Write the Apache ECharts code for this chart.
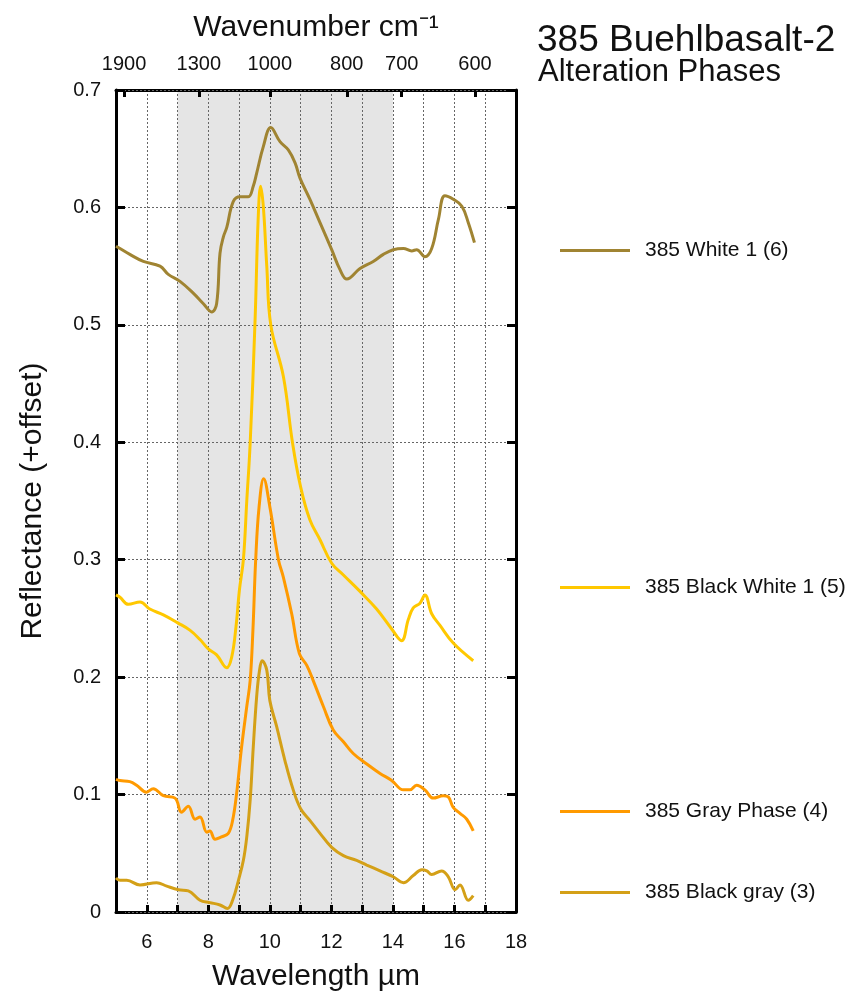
<!DOCTYPE html>
<html>
<head>
<meta charset="utf-8">
<script src="https://cdn.jsdelivr.net/npm/echarts@6/dist/echarts.min.js"></script>
<style>
  html, body { margin: 0; padding: 0; background: #fff; }
  #chart { width: 860px; height: 995px; }
</style>
</head>
<body>
<div id="chart"></div>
<script>
  'use strict'

  /*----- data -----*/
  var seriesNames = ['385 White 1 (6)', '385 Black White 1 (5)', '385 Gray Phase (4)', '385 Black gray (3)'];
  var seriesColors = ['#a08432', '#ffc800', '#ff9a00', '#d4a017'];

  var white1X = [5.0, 5.13, 5.45, 5.89, 6.43, 6.70, 7.08, 7.51, 7.84, 8.11, 8.27, 8.38, 8.49, 8.60, 8.81, 9.03, 9.30, 9.46, 9.57, 9.79, 10.03, 10.33, 10.60, 10.82, 10.98, 11.30, 11.63, 12.01, 12.28, 12.50, 12.93, 13.36, 13.69, 14.01, 14.34, 14.61, 14.77, 15.04, 15.26, 15.48, 15.69, 15.96, 16.24, 16.45, 16.65];
  var white1Y = [0.567, 0.565, 0.560, 0.554, 0.550, 0.543, 0.537, 0.527, 0.518, 0.511, 0.518, 0.561, 0.575, 0.583, 0.605, 0.609, 0.609, 0.618, 0.629, 0.652, 0.668, 0.656, 0.649, 0.638, 0.625, 0.607, 0.587, 0.564, 0.547, 0.539, 0.548, 0.554, 0.560, 0.564, 0.565, 0.563, 0.564, 0.558, 0.565, 0.590, 0.610, 0.607, 0.601, 0.587, 0.570];

  var blackWhiteX = [5.0, 5.13, 5.40, 5.78, 6.10, 6.54, 7.02, 7.40, 7.73, 8.0, 8.27, 8.60, 8.76, 8.90, 9.01, 9.14, 9.25, 9.36, 9.52, 9.62, 9.70, 9.79, 9.90, 10.03, 10.44, 10.74, 11.0, 11.30, 11.63, 12.01, 12.39, 12.93, 13.47, 13.96, 14.28, 14.50, 14.66, 14.88, 15.04, 15.26, 15.53, 15.96, 16.61];
  var blackWhiteY = [0.270, 0.268, 0.262, 0.264, 0.258, 0.253, 0.246, 0.240, 0.232, 0.224, 0.219, 0.208, 0.217, 0.243, 0.274, 0.300, 0.350, 0.399, 0.504, 0.590, 0.618, 0.600, 0.550, 0.500, 0.456, 0.399, 0.362, 0.334, 0.317, 0.297, 0.287, 0.273, 0.258, 0.241, 0.231, 0.249, 0.259, 0.263, 0.270, 0.254, 0.244, 0.229, 0.214];

  var grayX = [5.0, 5.13, 5.45, 5.67, 5.99, 6.21, 6.54, 6.92, 7.13, 7.35, 7.57, 7.73, 7.95, 8.05, 8.22, 8.43, 8.65, 8.79, 8.92, 9.08, 9.25, 9.36, 9.45, 9.54, 9.65, 9.80, 10.0, 10.28, 10.44, 10.71, 10.96, 11.20, 11.41, 11.74, 12.06, 12.39, 12.71, 13.15, 13.58, 13.96, 14.34, 14.55, 14.77, 15.04, 15.31, 15.64, 15.80, 15.96, 16.18, 16.40, 16.61];
  var grayY = [0.113, 0.112, 0.111, 0.108, 0.102, 0.105, 0.099, 0.097, 0.085, 0.090, 0.079, 0.081, 0.068, 0.069, 0.062, 0.064, 0.067, 0.078, 0.101, 0.140, 0.175, 0.197, 0.240, 0.300, 0.345, 0.369, 0.345, 0.300, 0.285, 0.254, 0.220, 0.210, 0.197, 0.175, 0.155, 0.145, 0.135, 0.126, 0.118, 0.112, 0.104, 0.104, 0.108, 0.104, 0.097, 0.099, 0.098, 0.089, 0.084, 0.079, 0.069];

  var blackGrayX = [5.0, 5.13, 5.35, 5.78, 6.32, 6.65, 7.03, 7.35, 7.73, 8.05, 8.38, 8.62, 8.79, 8.98, 9.14, 9.25, 9.36, 9.46, 9.57, 9.66, 9.75, 9.90, 10.0, 10.22, 10.49, 10.76, 11.0, 11.30, 11.63, 12.01, 12.39, 12.82, 13.15, 13.58, 14.01, 14.34, 14.66, 14.94, 15.10, 15.26, 15.58, 15.80, 16.02, 16.18, 16.45, 16.61];
  var blackGrayY = [0.029, 0.027, 0.027, 0.023, 0.025, 0.022, 0.019, 0.018, 0.010, 0.008, 0.006, 0.003, 0.010, 0.027, 0.044, 0.064, 0.095, 0.140, 0.183, 0.205, 0.214, 0.206, 0.180, 0.158, 0.129, 0.104, 0.088, 0.078, 0.067, 0.055, 0.048, 0.044, 0.040, 0.035, 0.030, 0.025, 0.031, 0.036, 0.035, 0.032, 0.035, 0.030, 0.019, 0.023, 0.010, 0.014];

  // top axis: wavenumber ticks (cm-1)
  var wavenumberTicks = [1900, 1300, 1000, 800, 700, 600];
  // shaded band in micrometres
  var shadeFrom = 7, shadeTo = 14;
  var xMin = 5, xMax = 18;

  var legendTops = [235, 572, 796, 877];

  var font = 'Liberation Sans, Arial, Helvetica, sans-serif';

  function zip(xs, ys) {
    return xs.map(function (x, i) { return [x, ys[i]]; });
  }
  var allX = [white1X, blackWhiteX, grayX, blackGrayX];
  var allY = [white1Y, blackWhiteY, grayY, blackGrayY];

  // split area colours, one per 1 um interval
  var bandColors = [];
  for (var v = xMin; v < xMax; v++) {
    bandColors.push(v >= shadeFrom && v < shadeTo ? '#e5e5e5' : '#ffffff');
  }

  var series = seriesNames.map(function (name, i) {
    return {
      name: name,
      type: 'line',
      xAxisIndex: 0,
      yAxisIndex: 0,
      data: zip(allX[i], allY[i]),
      showSymbol: false,
      symbol: 'none',
      smooth: 0.4,
      lineStyle: { width: 3, color: seriesColors[i] },
      itemStyle: { color: seriesColors[i] },
      z: 10 - i
    };
  });

  var legends = seriesNames.map(function (name, i) {
    return {
      data: [name],
      left: 555,
      top: legendTops[i],
      icon: 'rect',
      itemWidth: 70,
      itemHeight: 3,
      textStyle: { fontSize: 21, fontFamily: font, color: '#111', padding: [0, 0, 0, 10] }
    };
  });

  var dotted = { color: '#666', width: 1, type: [2, 2] };
  var frame = { show: true, onZero: false, lineStyle: { color: '#000', width: 3 } };

  var option = {
    animation: false,
    backgroundColor: '#fff',
    title: [{
      text: '385 Buehlbasalt-2',
      left: 532,
      top: 17,
      textStyle: { fontSize: 37, fontWeight: 'normal', fontFamily: font, color: '#111' }
    }, {
      text: 'Alteration Phases',
      left: 533,
      top: 52,
      textStyle: { fontSize: 31, fontWeight: 'normal', fontFamily: font, color: '#111' }
    }],
    legend: legends,
    grid: { left: 116, top: 90, width: 400, height: 822, outerBoundsMode: 'none' },
    xAxis: [{
      type: 'value',
      position: 'bottom',
      min: xMin,
      max: xMax,
      interval: 1,
      name: 'Wavelength µm',
      nameLocation: 'middle',
      nameGap: 50,
      nameMoveOverlap: false,
      nameTextStyle: { fontSize: 30, fontFamily: font, color: '#111' },
      axisLine: frame,
      axisTick: { show: true, inside: true, length: 7, lineStyle: { color: '#000', width: 3 } },
      axisLabel: {
        margin: 20, fontSize: 20, fontFamily: font, color: '#111',
        formatter: function (v) { return (v % 2 === 0 && v > xMin) ? String(v) : ''; }
      },
      splitLine: { show: true, lineStyle: dotted },
      splitArea: { show: true, areaStyle: { color: bandColors } }
    }, {
      type: 'value',
      position: 'top',
      min: xMin,
      max: xMax,
      name: 'Wavenumber cm⁻¹',
      nameLocation: 'middle',
      nameGap: 47,
      nameMoveOverlap: false,
      nameTextStyle: { fontSize: 30, fontFamily: font, color: '#111' },
      axisLine: frame,
      axisTick: {
        show: true, inside: true, length: 7, lineStyle: { color: '#000', width: 3 },
        customValues: wavenumberTicks.map(function (w) { return 10000 / w; })
      },
      axisLabel: {
        margin: 16, fontSize: 20, fontFamily: font, color: '#111',
        customValues: wavenumberTicks.map(function (w) { return 10000 / w; }),
        formatter: function (v) { return String(Math.round(10000 / v)); }
      },
      splitLine: { show: false }
    }],
    yAxis: [{
      type: 'value',
      position: 'left',
      min: 0,
      max: 0.7,
      interval: 0.1,
      z: 1,
      name: 'Reflectance (+offset)',
      nameLocation: 'middle',
      nameGap: 68,
      nameMoveOverlap: false,
      nameTextStyle: { fontSize: 30, fontFamily: font, color: '#111' },
      axisLine: frame,
      axisTick: { show: true, inside: true, length: 9, lineStyle: { color: '#000', width: 3 } },
      axisLabel: {
        margin: 15, fontSize: 20, fontFamily: font, color: '#111',
        formatter: function (v) { return v === 0 ? '0' : v.toFixed(1); }
      },
      splitLine: { show: true, lineStyle: dotted }
    }, {
      type: 'value',
      position: 'right',
      min: 0,
      max: 0.7,
      interval: 0.1,
      z: 1,
      axisLine: frame,
      axisTick: { show: true, inside: true, length: 9, lineStyle: { color: '#000', width: 3 } },
      axisLabel: { show: false },
      splitLine: { show: false }
    }],
    series: series
  };

  var chart = echarts.init(document.getElementById('chart'));
  chart.setOption(option);
</script>
</body>
</html>
